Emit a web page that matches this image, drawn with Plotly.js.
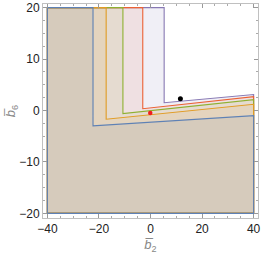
<!DOCTYPE html>
<html><head><meta charset="utf-8">
<script src="https://cdn.plot.ly/plotly-3.0.1.min.js"></script>
<style>html,body{margin:0;padding:0;background:#fff}</style>
</head><body>
<div id="chart" style="width:261px;height:254px"></div>
<script>
// Region boundaries (b2 vertical edge, b6 at corner, b6 at right edge b2=40)
const regionNames = ["purple","red","green","orange","blue"];
const regionColors = ["#8778B3","#EB6235","#8FB032","#E19C24","#5E81B5"];
const fillAlpha = [0.12,0.10,0.10,0.10,0.10];
const edgeB2 = [5.3, -3.0, -10.7, -17.2, -22.3];
const cornerB6 = [1.5, 0.35, -0.6, -1.7, -3.0];
const rightB6 = [3.1, 2.7, 2.1, 1.2, -1.0];
const domainB2 = [-40, 40];
const domainB6 = [-20, 20];
// Points
const blackPt = {b2:[11.6], b6:[2.3]};
const redPt = {b2:[-0.1], b6:[-0.5]};

function rgba(hex,a){const n=parseInt(hex.slice(1),16);return `rgba(${n>>16},${(n>>8)&255},${n&255},${a})`;}

const traces = regionNames.map((nm,i)=>({
  type:'scatter', mode:'lines', name:nm,
  x:[domainB2[0],domainB2[0],edgeB2[i],edgeB2[i],domainB2[1],domainB2[1],domainB2[0]],
  y:[domainB6[0],domainB6[1],domainB6[1],cornerB6[i],rightB6[i],domainB6[0],domainB6[0]],
  fill:'toself', fillcolor:rgba(regionColors[i],fillAlpha[i]),
  line:{color:regionColors[i],width:1.1}, hoverinfo:'skip'
}));
traces.push({type:'scatter',mode:'markers',x:blackPt.b2,y:blackPt.b6,marker:{color:'#000',size:5}});
traces.push({type:'scatter',mode:'markers',x:redPt.b2,y:redPt.b6,marker:{color:'#f01e1e',size:4.5}});

const axisCommon = {
  showgrid:false, zeroline:false, showline:true, linecolor:'#c0c0c0', linewidth:1,
  mirror:'ticks', ticks:'inside', ticklen:4, tickcolor:'#999', tickwidth:1,
  tickfont:{family:'Liberation Sans, Arial, sans-serif', size:12, color:'#222'}
};
const layout = {
  width:261, height:254, margin:{l:43,r:3,t:4,b:36},
  paper_bgcolor:'#fff', plot_bgcolor:'#fff', showlegend:false,
  xaxis:Object.assign({}, axisCommon, {range:[-41.7,41.7], tickvals:[-40,-20,0,20,40], ticktext:['\u221240','\u221220','0','20','40'],
    minor:{ticks:'inside',ticklen:2,tickcolor:'#aaa',dtick:5},
    title:{text:'<i>b\u0305</i><sub>2</sub>', font:{family:'Liberation Sans, Arial, sans-serif', size:13, color:'#888'}, standoff:6}}),
  yaxis:Object.assign({}, axisCommon, {range:[-20.9,20.7], tickvals:[-20,-10,0,10,20], ticktext:['\u221220','\u221210','0','10','20'],
    minor:{ticks:'inside',ticklen:2,tickcolor:'#aaa',dtick:2.5},
    title:{text:'<i>b\u0305</i><sub>6</sub>', font:{family:'Liberation Sans, Arial, sans-serif', size:13, color:'#888'}, standoff:0}})
};
Plotly.newPlot('chart', traces, layout, {staticPlot:true, displayModeBar:false});
</script>
</body></html>
